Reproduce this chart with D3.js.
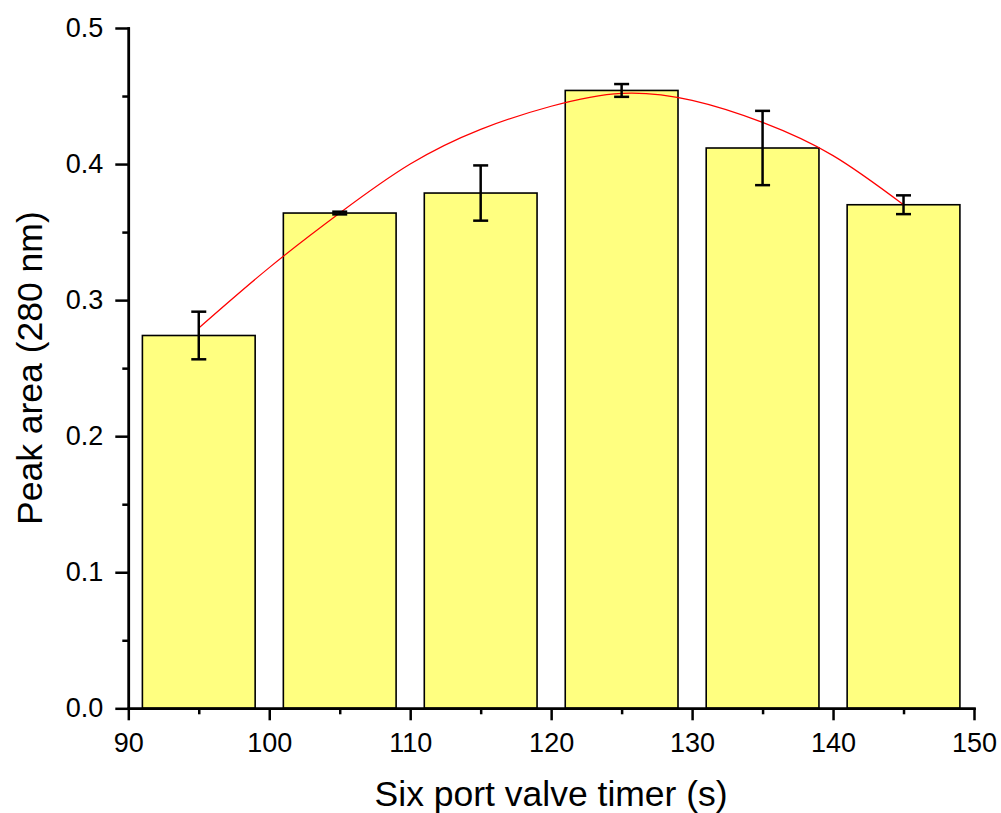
<!DOCTYPE html>
<html>
<head>
<meta charset="utf-8">
<script src="https://cdn.jsdelivr.net/npm/d3@7"></script>
<style>
  body { margin: 0; background: #fff; }
  text { font-family: Arial, "Liberation Sans", sans-serif; fill: #000; }
</style>
</head>
<body>
<svg id="chart" width="1001" height="813"></svg>
<script>
// six port valve timer (s)
const timers = [95, 105, 115, 125, 135, 145]
// peak area at 280 nm, mean and error
const peakArea = [0.274, 0.364, 0.3787, 0.4541, 0.4118, 0.3701]
const peakErr = [0.0175, 0.001, 0.0203, 0.0047, 0.0273, 0.0069]
// red fit line
const fitX = [95, 100, 105, 110, 115, 120, 125, 130, 135, 140, 145]
const fitY = [0.2795, 0.3239, 0.364, 0.4, 0.4255, 0.4425, 0.452, 0.4468, 0.4306, 0.4062, 0.3701]

const xTicks = [90, 100, 110, 120, 130, 140, 150]
const yTicks = [0, 0.1, 0.2, 0.3, 0.4, 0.5]
const barWidth = 8   // in x units

const svg = d3.select("#chart")
const plotLeft = 128.3, plotRight = 974, plotTop = 28, plotBottom = 708.3

const x = d3.scaleLinear().domain([90, 150]).range([plotLeft, plotRight])
const y = d3.scaleLinear().domain([0, 0.5]).range([plotBottom, plotTop])

// bars
svg.append("g")
  .selectAll("rect")
  .data(timers)
  .enter().append("rect")
    .attr("x", d => x(d - barWidth / 2))
    .attr("width", d => x(d + barWidth / 2) - x(d - barWidth / 2))
    .attr("y", (d, i) => y(peakArea[i]))
    .attr("height", (d, i) => y(0) - y(peakArea[i]))
    .style("fill", "#ffff80")
    .style("stroke", "#000")
    .style("stroke-width", 1.6)

// fit curve
const line = d3.line()
  .x(d => x(d[0]))
  .y(d => y(d[1]))
  .curve(d3.curveNatural)

svg.append("path")
  .datum(fitX.map((v, i) => [v, fitY[i]]))
  .attr("d", line)
  .style("fill", "none")
  .style("stroke", "#ff0000")
  .style("stroke-width", 1.2)

// error bars
const err = svg.append("g")
  .selectAll("g")
  .data(timers)
  .enter().append("g")
  .style("stroke", "#000")
  .style("stroke-width", 2.5)

err.append("line")
  .attr("x1", d => x(d)).attr("x2", d => x(d))
  .attr("y1", (d, i) => y(peakArea[i] - peakErr[i]))
  .attr("y2", (d, i) => y(peakArea[i] + peakErr[i]))
err.append("line")
  .attr("x1", d => x(d) - 7.5).attr("x2", d => x(d) + 7.5)
  .attr("y1", (d, i) => y(peakArea[i] + peakErr[i]))
  .attr("y2", (d, i) => y(peakArea[i] + peakErr[i]))
err.append("line")
  .attr("x1", d => x(d) - 7.5).attr("x2", d => x(d) + 7.5)
  .attr("y1", (d, i) => y(peakArea[i] - peakErr[i]))
  .attr("y2", (d, i) => y(peakArea[i] - peakErr[i]))

// minor ticks
svg.append("g")
  .attr("transform", "translate(0," + plotBottom + ")")
  .call(d3.axisBottom(x).tickValues(d3.range(95, 150, 10)).tickSize(6).tickSizeOuter(0).tickFormat(""))
svg.append("g")
  .attr("transform", "translate(" + plotLeft + ",0)")
  .call(d3.axisLeft(y).tickValues(d3.range(0.05, 0.5, 0.1)).tickSize(6).tickSizeOuter(0).tickFormat(""))

// major axes
svg.append("g")
  .attr("transform", "translate(0," + plotBottom + ")")
  .call(d3.axisBottom(x).tickValues(xTicks).tickSize(12).tickSizeOuter(0).tickPadding(13))
svg.append("g")
  .attr("transform", "translate(" + plotLeft + ",0)")
  .call(d3.axisLeft(y).tickValues(yTicks).tickSize(13).tickSizeOuter(0).tickPadding(12).tickFormat(d3.format(".1f")))

svg.selectAll(".domain, .tick line")
  .style("stroke", "#000")
  .style("stroke-width", 2.5)
svg.selectAll(".tick text")
  .style("font-size", "27px")
  .style("font-family", "Arial, 'Liberation Sans', sans-serif")
  .style("fill", "#000")
svg.selectAll(".domain").style("stroke-linecap", "square")

// axis titles
svg.append("text")
  .attr("x", (plotLeft + plotRight) / 2)
  .attr("y", 806)
  .attr("text-anchor", "middle")
  .style("font-size", "35.5px")
  .text("Six port valve timer (s)")

svg.append("text")
  .attr("transform", "translate(42," + (plotTop + plotBottom) / 2 + ") rotate(-90)")
  .attr("text-anchor", "middle")
  .style("font-size", "35.5px")
  .text("Peak area (280 nm)")
</script>
</body>
</html>
